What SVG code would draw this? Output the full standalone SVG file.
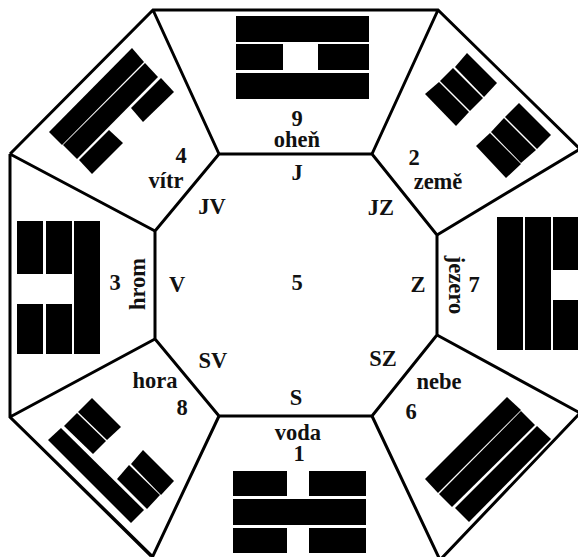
<svg xmlns="http://www.w3.org/2000/svg" width="578" height="557" viewBox="0 0 578 557">
<style>
.edge{fill:none;stroke:#000;stroke-width:3;stroke-linejoin:miter}
.bar{fill:#000}
text{font-family:"Liberation Serif","Times New Roman",serif;font-weight:bold;font-size:22.5px;fill:#111;text-anchor:middle}
</style>
<rect width="578" height="557" fill="#fff"/>
<g id="connectors">
<polygon class="edge" points="219,154 372,154 437,235 437,335 372,416 219,416 155,339 155,231"/>
<path class="edge" d="M10,154L153,10H438L580,149L437,235M580,149L590,160M10,154V417L153,557M10,154L155,231M10,417L155,339M153,10L219,154M438,10L372,154M580,413L437,335M580,413L440,560L372,416M151,560L219,416M10,417L151,556"/>
</g>
<g id="node-9">
<rect class="bar" x="236" y="16" width="133" height="26"/>
<rect class="bar" x="236" y="44" width="47" height="26"/>
<rect class="bar" x="318" y="44" width="51" height="26"/>
<rect class="bar" x="236" y="73" width="133" height="26"/>
<text x="297" y="126">9</text><text x="297" y="147">oheň</text>
</g>
<g id="node-2">
<polygon class="bar" points="467,53 497,83 484,97 455,67"/>
<polygon class="bar" points="453,68 483,98 470,111 440,81"/>
<polygon class="bar" points="439,82 469,112 456,126 425,94"/>
<polygon class="bar" points="519,103 551,135 537,149 505,117"/>
<polygon class="bar" points="504,118 536,150 521,163 491,132"/>
<polygon class="bar" points="490,133 521,164 506,178 476,146"/>
<text x="414" y="165">2</text><text x="438" y="189">země</text>
</g>
<g id="node-7">
<rect class="bar" x="497" y="217" width="26" height="133"/>
<rect class="bar" x="525" y="217" width="26" height="133"/>
<rect class="bar" x="553" y="217" width="26" height="53"/>
<rect class="bar" x="553" y="300" width="26" height="50"/>
<text x="474" y="292">7</text><text transform="translate(448.5 285) rotate(90)">jezero</text>
</g>
<g id="node-6">
<polygon class="bar" points="507,397 521,410 438,493 425,479"/>
<polygon class="bar" points="521,411 535,425 452,507 439,494"/>
<polygon class="bar" points="537,426 551,439 469,522 455,508"/>
<text x="439" y="389">nebe</text><text x="411" y="419">6</text>
</g>
<g id="node-1">
<rect class="bar" x="233" y="471" width="54" height="25"/>
<rect class="bar" x="309" y="471" width="57" height="25"/>
<rect class="bar" x="233" y="499" width="133" height="26"/>
<rect class="bar" x="233" y="528" width="54" height="25"/>
<rect class="bar" x="309" y="528" width="57" height="25"/>
<text x="298" y="440">voda</text><text x="299" y="461">1</text>
</g>
<g id="node-8">
<polygon class="bar" points="61,428 144,510 131,523 48,440"/>
<polygon class="bar" points="92,398 121,427 107,440 78,412"/>
<polygon class="bar" points="77,413 106,441 93,454 64,426"/>
<polygon class="bar" points="143,450 174,481 161,495 131,464"/>
<polygon class="bar" points="129,465 160,495 147,509 117,479"/>
<text x="155" y="388">hora</text><text x="182" y="415">8</text>
</g>
<g id="node-3">
<rect class="bar" x="17" y="221" width="26" height="53"/>
<rect class="bar" x="46" y="221" width="26" height="53"/>
<rect class="bar" x="74" y="221" width="26" height="133"/>
<rect class="bar" x="17" y="304" width="26" height="50"/>
<rect class="bar" x="46" y="304" width="26" height="50"/>
<text x="115" y="290">3</text><text transform="translate(145 284) rotate(-90)">hrom</text>
</g>
<g id="node-4">
<polygon class="bar" points="132,48 144,62 62,145 49,132"/>
<polygon class="bar" points="145,63 158,77 77,159 63,145"/>
<polygon class="bar" points="161,78 174,92 143,122 131,108"/>
<polygon class="bar" points="109,130 123,143 92,174 79,160"/>
<text x="181" y="163">4</text><text x="166" y="188">vítr</text>
</g>
<g id="node-5">
<text x="297" y="290">5</text><text x="297" y="180">J</text><text x="381" y="215">JZ</text><text x="418" y="292">Z</text><text x="383" y="366">SZ</text><text x="296" y="405">S</text><text x="213" y="368">SV</text><text x="177" y="292">V</text><text x="212" y="214">JV</text>
</g>
</svg>
